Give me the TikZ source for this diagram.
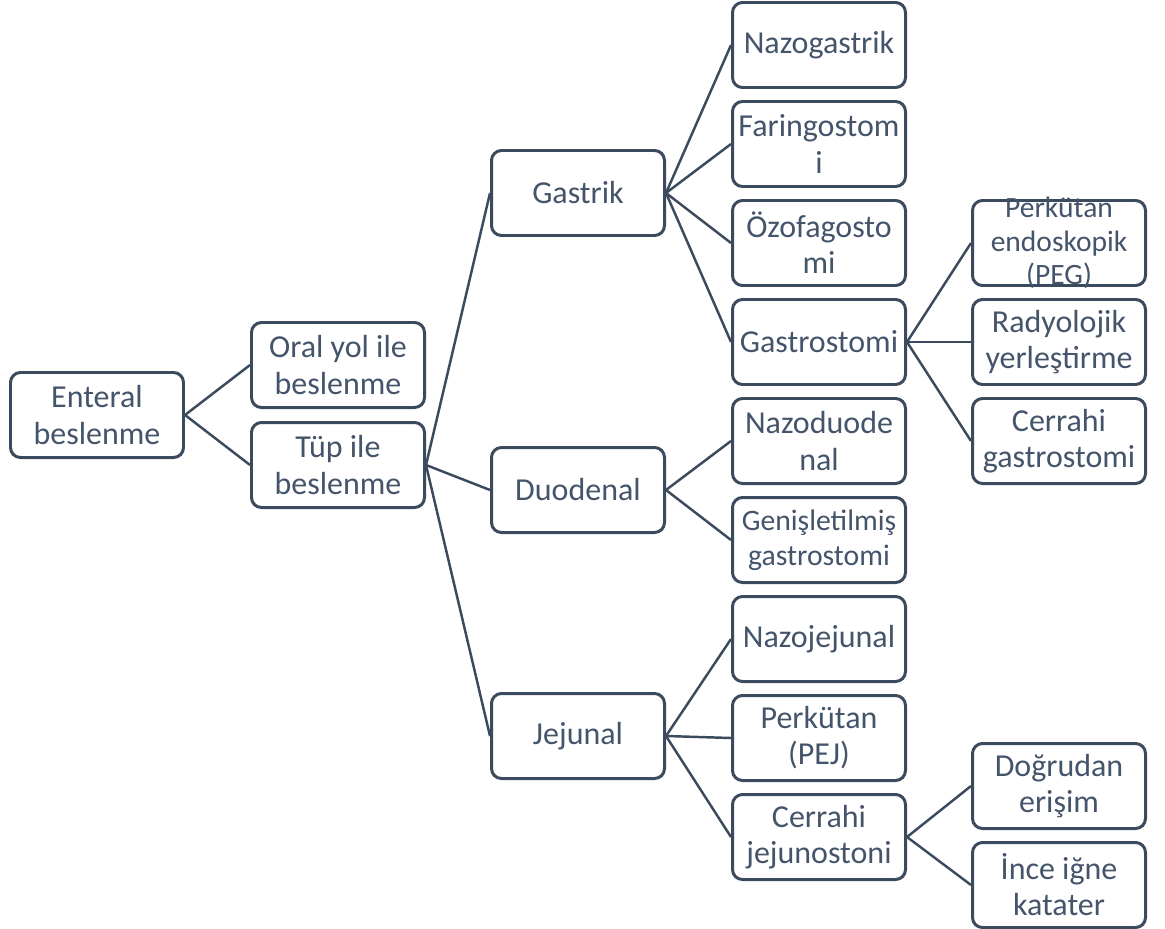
\documentclass[tikz,border=0pt]{standalone}
\usepackage{fontspec}
\setmainfont{Carlito}
\usetikzlibrary{positioning}
\definecolor{boxline}{HTML}{3B4A5C}
\definecolor{boxtext}{HTML}{44546A}

\begin{document}
\begin{tikzpicture}[-,auto,node distance=1.98cm,
            item node/.style={rectangle,rounded corners=0.2cm,draw=boxline,line width=1.7pt,
              minimum width=3.46cm,minimum height=1.7cm,inner sep=1pt,align=center,
              text=boxtext,font=\fontsize{18.2pt}{20.5pt}\selectfont},
            small text/.style={align=center,text=boxtext,font=\fontsize{16.8pt}{19pt}\selectfont}]

        \useasboundingbox (0,0) rectangle (23.3,-18.56);

        % Define vertices
        \node[item node] (enteral) at (1.94,-8.30) {Enteral\\beslenme};
        \node[item node] (oral) at (6.76,-7.30) {Oral yol ile\\beslenme};
        \node[item node] (tup) [below of=oral,node distance=2cm] {Tüp ile\\beslenme};

        \node[item node] (gastrik) at (11.56,-3.86) {Gastrik};
        \node[item node] (duodenal) at (11.56,-9.80) {Duodenal};
        \node[item node] (jejunal) at (11.56,-14.72) {Jejunal};

        \node[item node] (nazogastrik) at (16.38,-0.90) {Nazogastrik};
        \node[item node] (faringostomi) [below of=nazogastrik] {Faringostom\\i};
        \node[item node] (ozofagostomi) [below of=faringostomi] {Özofagosto\\mi};
        \node[item node] (gastrostomi) [below of=ozofagostomi] {Gastrostomi};
        \node[item node] (nazoduodenal) [below of=gastrostomi] {Nazoduode\\nal};
        \node[item node,font=\fontsize{16.9pt}{20pt}\selectfont] (genisletilmis) [below of=nazoduodenal] {Genişletilmiş\\gastrostomi};
        \node[item node] (nazojejunal) [below of=genisletilmis] {Nazojejunal};
        \node[item node] (pej) [below of=nazojejunal] {Perkütan\\(PEJ)};
        \node[item node] (cerrahijej) [below of=pej] {Cerrahi\\jejunostoni};

        \node[item node,label={[small text]center:Perkütan\\endoskopik\\(PEG)}] (peg) [right of=ozofagostomi,node distance=4.8cm] {};
        \node[item node] (radyolojik) [right of=gastrostomi,node distance=4.8cm] {Radyolojik\\yerleştirme};
        \node[item node] (cerrahigast) [right of=nazoduodenal,node distance=4.8cm] {Cerrahi\\gastrostomi};
        \node[item node] (dogrudan) at (21.18,-15.72) {Doğrudan\\erişim};
        \node[item node] (ince) [below of=dogrudan] {İnce iğne\\katater};

        % Draw edges
        \path[draw=boxline,line width=1.4pt]
            (enteral.east) edge (oral.west)
            (enteral.east) edge (tup.west)
            (tup.east) edge (gastrik.west)
            (tup.east) edge (duodenal.west)
            (tup.east) edge (jejunal.west)
            (gastrik.east) edge (nazogastrik.west)
            (gastrik.east) edge (faringostomi.west)
            (gastrik.east) edge (ozofagostomi.west)
            (gastrik.east) edge (gastrostomi.west)
            (gastrostomi.east) edge (peg.west)
            (gastrostomi.east) edge (radyolojik.west)
            (gastrostomi.east) edge (cerrahigast.west)
            (duodenal.east) edge (nazoduodenal.west)
            (duodenal.east) edge (genisletilmis.west)
            (jejunal.east) edge (nazojejunal.west)
            (jejunal.east) edge (pej.west)
            (jejunal.east) edge (cerrahijej.west)
            (cerrahijej.east) edge (dogrudan.west)
            (cerrahijej.east) edge (ince.west);

        \end{tikzpicture}
\end{document}
